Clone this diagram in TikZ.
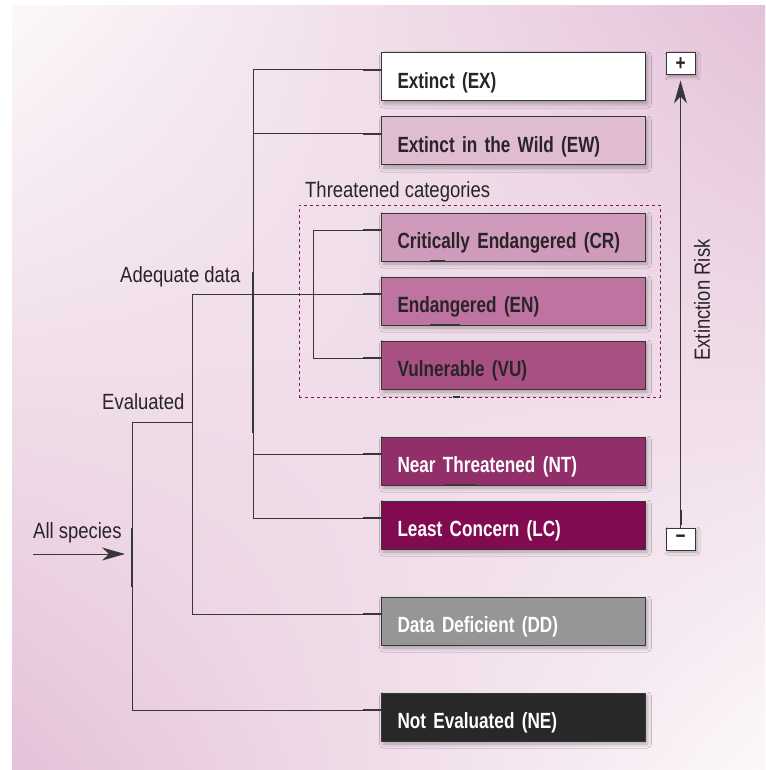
\documentclass[tikz,border=0pt]{standalone}
\usepackage{fontspec}
\setmainfont{Liberation Sans}[FakeStretch=0.84, BoldFeatures={FakeStretch=0.78}]
\usepackage{tikz}
\usetikzlibrary{arrows.meta,calc,shadings,shadows.blur}

\definecolor{catEW}{RGB}{224,188,210}
\definecolor{catCR}{RGB}{208,155,186}
\definecolor{catEN}{RGB}{190,115,160}
\definecolor{catVU}{RGB}{168,80,130}
\definecolor{catNT}{RGB}{146,46,106}
\definecolor{catLC}{RGB}{130,10,80}
\definecolor{catDD}{RGB}{150,150,150}
\definecolor{catNE}{RGB}{40,40,40}
\definecolor{inkdark}{RGB}{40,36,40}
\definecolor{wire}{RGB}{55,55,55}
\definecolor{frame}{RGB}{140,20,80}
\definecolor{bgpink}{RGB}{228,194,217}
\definecolor{bgwhite}{RGB}{252,248,250}

\begin{document}
\begin{tikzpicture}[x=1pt, y=-1pt,
	cat/.style={draw=wire, line width=1pt, anchor=west, minimum height=48pt, text width=232pt,
		inner xsep=16pt, inner ysep=0pt, text height=23pt, text depth=0pt, align=left,
		font=\fontsize{22}{26}\selectfont\bfseries,
		blur shadow={shadow xshift=2pt, shadow yshift=-3pt, shadow blur radius=4pt, shadow opacity=30}},
	lbl/.style={font=\fontsize{22}{26}\selectfont, text=inkdark, inner sep=0pt, anchor=base west},
	sign/.style={draw=wire, line width=1pt, fill=white, minimum width=29pt, minimum height=22pt, inner sep=0pt,
		font=\fontsize{22}{22}\selectfont\bfseries, text=inkdark,
		blur shadow={shadow xshift=2pt, shadow yshift=-2pt, shadow blur radius=3pt, shadow opacity=30}},
	link/.style={draw=wire, line width=1pt},
	stub/.style={draw=wire, line width=2pt},
	tip/.style={-{Stealth[length=23pt, width=13pt, inset=7pt]}}]

	\useasboundingbox (0,0) rectangle (765,770);
	\shade[upper left=bgwhite, upper right=bgpink, lower left=bgpink, lower right=bgwhite] (12,6) rectangle (765,770);

	% categories
	\node[cat, fill=white, text=inkdark]	(EX)	at (381,77)		{Extinct (EX)};
	\node[cat, fill=catEW, text=inkdark]	(EW)	at (381,141)	{Extinct in the Wild (EW)};
	\node[cat, fill=catCR, text=inkdark]	(CR)	at (381,237)	{Critically Endangered (CR)};
	\node[cat, fill=catEN, text=inkdark]	(EN)	at (381,301)	{Endangered (EN)};
	\node[cat, fill=catVU, text=inkdark]	(VU)	at (381,365)	{Vulnerable (VU)};
	\node[cat, fill=catNT, text=white]		(NT)	at (381,461)	{Near Threatened (NT)};
	\node[cat, fill=catLC, text=white]		(LC)	at (381,525)	{Least Concern (LC)};
	\node[cat, fill=catDD, text=white]		(DD)	at (381,621)	{Data Deficient (DD)};
	\node[cat, fill=catNE, text=white]		(NE)	at (381,717)	{Not Evaluated (NE)};

	\foreach \c in {EX,EW,CR,EN,VU,NT,LC,DD,NE}
		\coordinate (\c-in) at ($(\c.west)+(0,-7)$);

	% bracket columns
	\coordinate	(adqX)	at (253,0);
	\coordinate	(thrX)	at (313,0);
	\coordinate	(datX)	at (192,0);
	\coordinate	(evlX)	at (132,0);
	\coordinate	(evl)	at (132,422);
	\coordinate	(start)	at (33,554);
	\coordinate	(allIn)	at (125,554);

	% threatened group
	\node[draw=frame, dashed, line width=0.8pt, minimum width=361pt, minimum height=192pt, inner sep=0pt] (thr) at (479.5,301) {};
	\node[lbl]	(thrlbl)	at (305,197)	{Threatened categories};

	\draw[link] (EX-in) -| (adqX |- LC-in) -- (LC-in);
	\draw[link] (EW-in) -- (EW-in -| adqX);
	\draw[link] (NT-in) -- (NT-in -| adqX);
	\draw[link] (CR-in) -| (thrX |- VU-in) -- (VU-in);
	\draw[link] (EN-in) -| (datX |- DD-in) -- (DD-in);
	\draw[link] (NE-in) -| (evl) -- (evl -| datX);
	\draw[link, tip] (start) -- (allIn);

	\foreach \c in {EX,EW,CR,EN,VU,NT,LC,DD,NE}
		\draw[stub] (\c-in) -- ++(-18,0);
	\draw[stub] (253,272) -- (253,433);
	\draw[stub] (132,528) -- (132,587);
	\draw[stub] (430,261) -- (445,261);
	\draw[stub] (430,325) -- (460,325);
	\draw[stub] (445,485) -- (475,485);
	\draw[stub] (453,397) -- (460,397);

	\node[lbl]	(adq)	at (120,282)	{Adequate data};
	\node[lbl]	(eva)	at (102,409)	{Evaluated};
	\node[lbl]	(all)	at (33,538)		{All species};

	% extinction risk scale
	\node[sign]	(plus)	at (680.5,64)	{+};
	\node[sign]	(minus)	at (680.5,539)	{−};
	\draw[link, tip, shorten >=5pt] (minus.north) -- (plus.south);
	\draw[stub] ($(minus.north)+(0,-3)$) -- ++(0,-15);
	\node[lbl, rotate=90, anchor=center]	(risk)	at (702,300)	{Extinction Risk};

\end{tikzpicture}
\end{document}
